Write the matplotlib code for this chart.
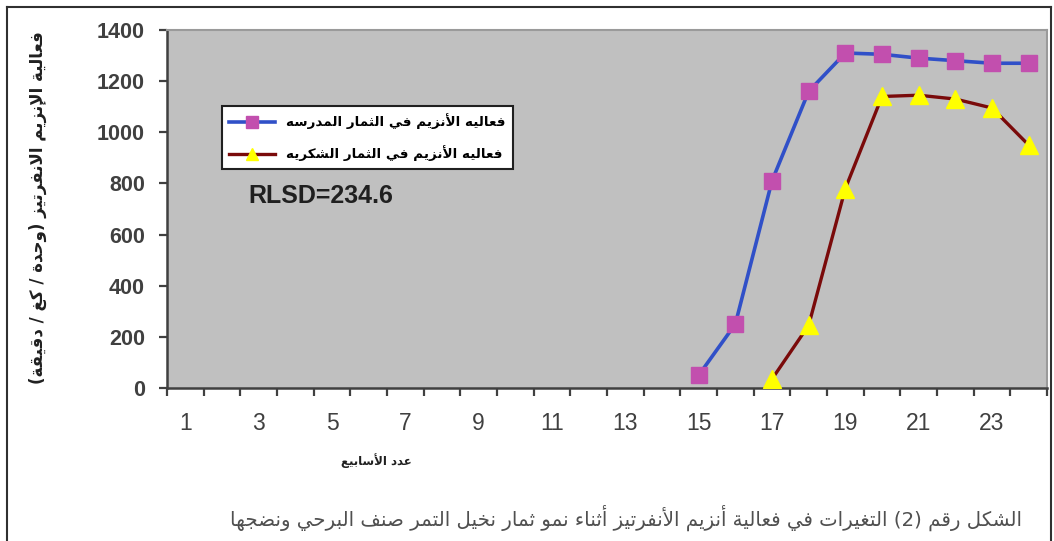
import matplotlib
matplotlib.use('Agg')
import matplotlib.pyplot as plt
from matplotlib.lines import Line2D

# ---------------- data ----------------
weeks_s1 = [15, 16, 17, 18, 19, 20, 21, 22, 23, 24]
activity_s1 = [50, 250, 810, 1160, 1310, 1305, 1290, 1280, 1270, 1270]
weeks_s2 = [17, 18, 19, 20, 21, 22, 23, 24]
activity_s2 = [35, 245, 780, 1140, 1145, 1130, 1095, 950]
xtick_values = [1, 3, 5, 7, 9, 11, 13, 15, 17, 19, 21, 23]
xtick_labels = ['1', '3', '5', '7', '9', '11', '13', '15', '17', '19', '21', '23']
ytick_values = [0, 200, 400, 600, 800, 1000, 1200, 1400]
legend_labels = ['فعاليه الأنزيم في الثمار المدرسه', 'فعاليه الأنزيم في الثمار الشكريه']
ylabel_text = 'فعالية الإنزيم الانفرتيز (وحدة / كغ / دقيقة)'
xlabel_text = 'عدد الأسابيع'
caption_text = 'الشكل رقم (2) التغيرات في فعالية أنزيم الأنفرتيز أثناء نمو ثمار نخيل التمر صنف البرحي ونضجها'
annotation_text = 'RLSD=234.6'

# ---------------- Arabic shaping (presentation forms + RTL order) ----------------
_FORMS = {
    'آ': (0xFE81, 2), 'أ': (0xFE83, 2), 'ؤ': (0xFE85, 2), 'إ': (0xFE87, 2),
    'ئ': (0xFE89, 4), 'ا': (0xFE8D, 2), 'ب': (0xFE8F, 4), 'ة': (0xFE93, 2),
    'ت': (0xFE95, 4), 'ث': (0xFE99, 4), 'ج': (0xFE9D, 4), 'ح': (0xFEA1, 4),
    'خ': (0xFEA5, 4), 'د': (0xFEA9, 2), 'ذ': (0xFEAB, 2), 'ر': (0xFEAD, 2),
    'ز': (0xFEAF, 2), 'س': (0xFEB1, 4), 'ش': (0xFEB5, 4), 'ص': (0xFEB9, 4),
    'ض': (0xFEBD, 4), 'ط': (0xFEC1, 4), 'ظ': (0xFEC5, 4), 'ع': (0xFEC9, 4),
    'غ': (0xFECD, 4), 'ف': (0xFED1, 4), 'ق': (0xFED5, 4), 'ك': (0xFED9, 4),
    'ل': (0xFEDD, 4), 'م': (0xFEE1, 4), 'ن': (0xFEE5, 4), 'ه': (0xFEE9, 4),
    'و': (0xFEED, 2), 'ى': (0xFEEF, 2), 'ي': (0xFEF1, 4),
}
_LAMALEF = {'آ': 0xFEF5, 'أ': 0xFEF7, 'إ': 0xFEF9, 'ا': 0xFEFB}


def shape(text):
    units = []
    i = 0
    while i < len(text):
        c = text[i]
        if c == 'ل' and i + 1 < len(text) and text[i + 1] in _LAMALEF:
            units.append(('LA', text[i + 1]))
            i += 2
        else:
            units.append(('C', c))
            i += 1

    def jt(u):
        if u[0] == 'LA':
            return 'R'
        if u[1] in _FORMS:
            return 'D' if _FORMS[u[1]][1] == 4 else 'R'
        return 'U'

    out = []
    for k, u in enumerate(units):
        t = jt(u)
        prev = jt(units[k - 1]) if k > 0 else 'U'
        nxt = jt(units[k + 1]) if k + 1 < len(units) else 'U'
        jp = t in 'DR' and prev == 'D'
        jn = t == 'D' and nxt in 'DR'
        if u[0] == 'LA':
            out.append(chr(_LAMALEF[u[1]] + (1 if jp else 0)))
        elif t == 'U':
            out.append(u[1])
        else:
            base = _FORMS[u[1]][0]
            off = 3 if (jp and jn) else 1 if jp else 2 if jn else 0
            out.append(chr(base + off))
    s = ''.join(out)[::-1]
    return s.translate(str.maketrans('()', ')('))


# ---------------- figure ----------------
W, H = 1054, 541
fig = plt.figure(figsize=(W / 100, H / 100), dpi=100)
fig.patch.set_facecolor('white')

L, R, T, B = 167, 1047, 30, 388
ax = fig.add_axes([L / W, 1 - B / H, (R - L) / W, (B - T) / H])
ax.set_facecolor('#C0C0C0')

ax.plot(weeks_s1, activity_s1, color='#3050C8', lw=2.6, marker='s', ms=11.5,
        mfc='#C24FAE', mec='#C24FAE', label=shape(legend_labels[0]), zorder=3)
ax.plot(weeks_s2, activity_s2, color='#7A0A0A', lw=2.4, marker='^', ms=12.5,
        mfc='#FFFF00', mec='#FFFF00', label=shape(legend_labels[1]), zorder=3)

ax.set_xlim(0.5, 24.5)
ax.set_ylim(0, 1400)

# x axis: ticks at category boundaries, labels at category centres
ax.set_xticks([k + 0.5 for k in range(0, 25)])
ax.set_xticklabels([])
ax.set_xticks(xtick_values, minor=True)
ax.set_xticklabels(xtick_labels, minor=True, fontsize=16.5,
                   fontfamily='Liberation Sans', color='#404040')
ax.tick_params(axis='x', which='major', direction='out', length=6, width=1.6,
               color='#404040')
ax.tick_params(axis='x', which='minor', length=0, pad=17)

ax.set_yticks(ytick_values)
ax.set_yticklabels([str(v) for v in ytick_values], fontsize=15.5,
                   fontfamily='Liberation Sans', color='#404040', fontweight='bold')
ax.tick_params(axis='y', direction='out', length=6, width=1.6, color='#404040', pad=10)

for side in ['left', 'bottom']:
    ax.spines[side].set_color('#404040')
    ax.spines[side].set_linewidth(1.8)
for side in ['top', 'right']:
    ax.spines[side].set_color('#9A9A9A')
    ax.spines[side].set_linewidth(1.5)

leg = ax.legend(loc='upper left', bbox_to_anchor=((222 - L) / (R - L), (B - 106) / (B - T)),
                borderaxespad=0, frameon=True, fancybox=False, numpoints=1,
                handlelength=3.4, handletextpad=0.8, labelspacing=1.2,
                borderpad=0.55, markerscale=0.7,
                prop={'family': 'DejaVu Sans', 'weight': 'bold', 'size': 9.7})
leg.get_frame().set_edgecolor('#202020')
leg.get_frame().set_linewidth(1.5)
leg.get_frame().set_facecolor('white')
leg.get_frame().set_alpha(1)

ax.text((248 - L) / (R - L), (B - 196) / (B - T), annotation_text,
        transform=ax.transAxes, ha='left', va='center', fontsize=18,
        fontfamily='Liberation Sans', fontweight='bold', color='#202020')

# axis titles
fig.text(38 / W, 1 - 208 / H, shape(ylabel_text), rotation=90, ha='center', va='center',
         fontsize=12, fontfamily='DejaVu Sans', fontweight='bold', color='#202020')
fig.text(376 / W, 1 - 461 / H, shape(xlabel_text), ha='center', va='center',
         fontsize=8.5, fontfamily='DejaVu Sans', fontweight='bold', color='#202020')

# caption
fig.text(626 / W, 1 - 518 / H, shape(caption_text), ha='center', va='center',
         fontsize=14.2, fontfamily='DejaVu Sans', color='#505050')

# outer frame
fx0, fx1, fy1 = 7 / W, 1051 / W, 1 - 7 / H
for xs, ys in [([fx0, fx1], [fy1, fy1]), ([fx0, fx0], [fy1, 0]), ([fx1, fx1], [fy1, 0])]:
    fig.add_artist(Line2D(xs, ys, transform=fig.transFigure, color='#303030', lw=1.5))

fig.savefig('out.png', dpi=100)
